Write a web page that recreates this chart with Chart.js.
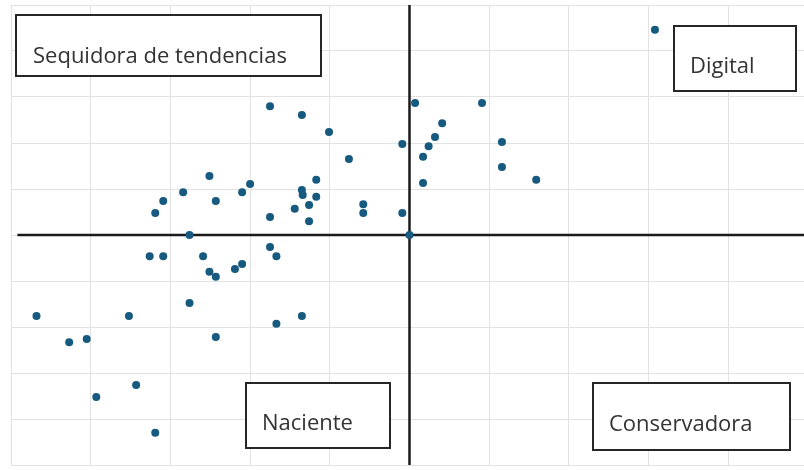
<!DOCTYPE html>
<html>
<head>
<meta charset="utf-8">
<script src="https://cdn.jsdelivr.net/npm/chart.js@4"></script>
<style>
  html, body { margin: 0; padding: 0; background: #ffffff; overflow: hidden; width: 804px; height: 470px; }
  #wrap { width: 808px; height: 470px; position: relative; }
</style>
</head>
<body>
<div id="wrap"><canvas id="c"></canvas></div>
<script>
// Scatter values (x, y)
const xValues = [
  -1.75, -1.35, -1.01, -0.09, -0.76, -2.51, -1.17, -2.00, -2.84, -2.10,
  -1.35, -1.34, -1.17, -3.09, -2.43, -1.26, -1.44, -0.58, -0.58, -3.19,
  -1.75, -1.26, -0.09, -2.76, 3.08, 0.07, 0.91, 0.41, 0.32, 0.24,
  1.16, 0.17, 1.16, 1.59, 0.17, 0.00, -1.75, -3.26, -3.09, -2.59,
  -1.67, -2.10, -2.19, -2.51, -2.43, -2.76, -4.68, -3.52, -1.35, -1.67,
  -4.27, -4.05, -2.43, -3.43, -3.93, -3.19
];
const yValues = [
  2.80, 2.61, 2.24, 1.98, 1.65, 1.28, 1.20, 1.11, 0.93, 0.93,
  0.98, 0.87, 0.83, 0.74, 0.74, 0.65, 0.57, 0.67, 0.48, 0.48,
  0.39, 0.30, 0.48, 0.00, 4.46, 2.87, 2.87, 2.43, 2.13, 1.93,
  2.02, 1.70, 1.48, 1.20, 1.13, 0.00, -0.26, -0.46, -0.46, -0.46,
  -0.46, -0.63, -0.74, -0.80, -0.91, -1.48, -1.76, -1.76, -1.76, -1.93,
  -2.33, -2.26, -2.22, -3.26, -3.52, -4.30
];
// Quadrant labels
const quadrantLabels = ["Sequidora de tendencias", "Digital", "Naciente", "Conservadora"];
// Axis ranges
const xRange = [-5, 4.95];
const yRange = [-5, 5];

const points = xValues.map((x, i) => ({ x: x, y: yValues[i] }));

// Label boxes (layout, in canvas pixels)
const boxLayout = [
  { left: 16,  top: 15,  w: 305, h: 61, tx: 33,  ty: 63 },
  { left: 674, top: 26,  w: 122, h: 65, tx: 690, ty: 73 },
  { left: 246, top: 383, w: 144, h: 65, tx: 262, ty: 430 },
  { left: 593, top: 383, w: 197, h: 67, tx: 609, ty: 431 }
];

const boxPlugin = {
  id: 'quadBoxes',
  afterDatasetsDraw(chart) {
    const ctx = chart.ctx;
    ctx.save();
    quadrantLabels.forEach((txt, i) => {
      const b = boxLayout[i];
      ctx.fillStyle = '#ffffff';
      ctx.fillRect(b.left, b.top, b.w, b.h);
      ctx.lineWidth = 2;
      ctx.strokeStyle = '#262626';
      ctx.strokeRect(b.left, b.top, b.w, b.h);
      ctx.fillStyle = '#333333';
      ctx.font = '22px "Open Sans"';
      ctx.textBaseline = 'alphabetic';
      ctx.textAlign = 'left';
      ctx.fillText(txt, b.tx, b.ty);
    });
    ctx.restore();
  }
};

new Chart(document.getElementById('c'), {
  type: 'scatter',
  data: {
    datasets: [
      {
        label: 'puntos',
        data: points,
        backgroundColor: '#175a7f',
        borderColor: '#175a7f',
        pointRadius: 4,
        pointBorderWidth: 0,
        order: 0
      },
      {
        label: 'eje x',
        type: 'line',
        data: [{ x: -4.92, y: 0 }, { x: xRange[1], y: 0 }],
        borderColor: '#1a1a1a',
        borderWidth: 2.5,
        pointRadius: 0,
        fill: false,
        order: 1
      },
      {
        label: 'eje y',
        type: 'line',
        data: [{ x: 0, y: yRange[0] }, { x: 0, y: yRange[1] }],
        borderColor: '#1a1a1a',
        borderWidth: 2.5,
        pointRadius: 0,
        fill: false,
        order: 1
      }
    ]
  },
  options: {
    responsive: true,
    maintainAspectRatio: false,
    animation: false,
    layout: { padding: { left: 11, top: 5, right: 0, bottom: 5 } },
    plugins: {
      legend: { display: false },
      tooltip: { enabled: false }
    },
    scales: {
      x: {
        type: 'linear',
        min: xRange[0],
        max: xRange[1],
        ticks: { display: false, stepSize: 1, includeBounds: false },
        grid: { color: '#e2e2e2', lineWidth: 1, drawTicks: false },
        border: { display: false },
        afterFit(s) { s.height = 0; }
      },
      y: {
        type: 'linear',
        min: yRange[0],
        max: yRange[1],
        ticks: { display: false, stepSize: 1 },
        grid: { color: '#e2e2e2', lineWidth: 1, drawTicks: false },
        border: { display: false },
        afterFit(s) { s.width = 0; }
      }
    }
  },
  plugins: [boxPlugin]
});
</script>
</body>
</html>
